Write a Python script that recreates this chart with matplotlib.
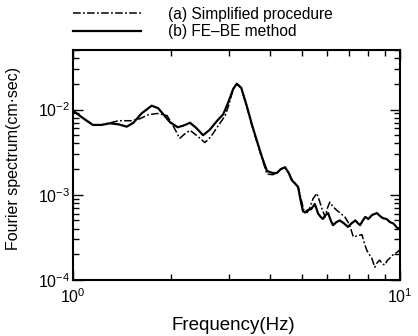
import matplotlib
matplotlib.use("Agg")
import matplotlib.pyplot as plt
from matplotlib.ticker import LogLocator, NullFormatter, FixedLocator, FixedFormatter

plt.rcParams['font.family'] = ['Liberation Sans', 'DejaVu Sans']

freq_b = [1.00, 1.07, 1.15, 1.22, 1.30, 1.38, 1.46, 1.53, 1.62, 1.74, 1.82, 1.88, 1.98, 2.09,
          2.18, 2.28, 2.38, 2.50, 2.62, 2.76, 2.88, 2.98, 3.09, 3.17, 3.27, 3.40, 3.52, 3.65,
          3.78, 3.92, 4.08, 4.20, 4.32, 4.45, 4.57, 4.67, 4.78, 4.88, 4.97, 5.05, 5.13, 5.22,
          5.35, 5.49, 5.62, 5.72, 5.81, 5.92, 6.03, 6.14, 6.24, 6.40, 6.55, 6.75, 6.93, 7.10,
          7.30, 7.45, 7.55, 7.70, 7.83, 8.00, 8.22, 8.50, 8.70, 8.88, 9.10, 9.30, 9.55, 9.80, 10.0]
spec_b = [0.0097, 0.0080, 0.0066, 0.0066, 0.0069, 0.0067, 0.0063, 0.0070, 0.0090, 0.0111, 0.0104,
          0.0090, 0.0071, 0.0062, 0.0065, 0.0070, 0.0061, 0.0050, 0.0058, 0.0074, 0.0088, 0.0120,
          0.0175, 0.0201, 0.0180, 0.0110, 0.0068, 0.0043, 0.0028, 0.0019, 0.0018, 0.0018, 0.0020,
          0.0021, 0.0018, 0.00148, 0.00135, 0.00123, 0.00085, 0.00064, 0.00062, 0.00066, 0.00068,
          0.00078, 0.00060, 0.00055, 0.00052, 0.00058, 0.00061, 0.00050, 0.00044, 0.00048, 0.00050,
          0.00046, 0.00042, 0.00046, 0.00050, 0.00046, 0.00044, 0.00050, 0.00055, 0.00052, 0.00058,
          0.00061, 0.00056, 0.00053, 0.00052, 0.00048, 0.00046, 0.00041, 0.00040]

freq_a = [1.00, 1.07, 1.15, 1.22, 1.30, 1.38, 1.46, 1.51, 1.60, 1.70, 1.81, 1.94, 2.03, 2.12,
          2.20, 2.28, 2.40, 2.53, 2.64, 2.76, 2.92, 3.00, 3.09, 3.17, 3.27, 3.40, 3.52, 3.65,
          3.78, 3.92, 4.08, 4.20, 4.32, 4.45, 4.57, 4.67, 4.78, 4.88, 4.98, 5.08, 5.20, 5.30,
          5.42, 5.57, 5.67, 5.77, 5.90, 6.00, 6.10, 6.25, 6.40, 6.60, 6.78, 7.00, 7.20, 7.40,
          7.65, 7.80, 7.93, 8.05, 8.20, 8.37, 8.52, 8.67, 8.82, 8.98, 9.15, 9.30, 9.55, 9.77, 10.0]
spec_a = [0.0097, 0.0080, 0.0066, 0.0066, 0.0070, 0.0074, 0.0074, 0.0074, 0.0078, 0.0087, 0.0090,
          0.0085, 0.0063, 0.0046, 0.0052, 0.0057, 0.0049, 0.0041, 0.0048, 0.0062, 0.0085, 0.0115,
          0.0175, 0.0200, 0.0178, 0.0108, 0.0066, 0.0042, 0.0027, 0.00175, 0.00172, 0.0018, 0.0020,
          0.0021, 0.0018, 0.0015, 0.00135, 0.00124, 0.00090, 0.00066, 0.00062, 0.00070, 0.00090,
          0.00104, 0.00085, 0.00069, 0.00055, 0.00070, 0.00082, 0.00072, 0.00066, 0.00060, 0.00055,
          0.00045, 0.00032, 0.00033, 0.00034, 0.00026, 0.00022, 0.00020, 0.00018, 0.000141, 0.000160,
          0.000171, 0.000155, 0.000150, 0.000170, 0.00018, 0.00020, 0.00021, 0.000225]

label_a = "(a) Simplified procedure"
label_b = "(b) FE\u2013BE method"
xticks = [1, 10]
xticklabels = [r"$\mathregular{10^{0}}$", r"$\mathregular{10^{1}}$"]
yticks = [1e-4, 1e-3, 1e-2]
yticklabels = [r"$\mathregular{10^{-4}}$", r"$\mathregular{10^{-3}}$", r"$\mathregular{10^{-2}}$"]

fig = plt.figure(figsize=(4.18, 3.36), dpi=100)
ax = fig.add_axes([73/418, 1-280/336, (400-73)/418, (280-50)/336])

la, = ax.plot(freq_a, spec_a, color='black', lw=1.1, linestyle=(0, (5, 1.5, 1.2, 1.5)))
lb, = ax.plot(freq_b, spec_b, color='black', lw=1.6, linestyle='-')

ax.set_xscale('log')
ax.set_yscale('log')
ax.set_xlim(1, 10)
ax.set_ylim(1e-4, 0.05)

ax.xaxis.set_major_locator(FixedLocator(xticks))
ax.xaxis.set_major_formatter(FixedFormatter(xticklabels))
ax.xaxis.set_minor_locator(LogLocator(base=10, subs=range(2, 10)))
ax.xaxis.set_minor_formatter(NullFormatter())
ax.yaxis.set_major_locator(FixedLocator(yticks))
ax.yaxis.set_major_formatter(FixedFormatter(yticklabels))
ax.yaxis.set_minor_locator(LogLocator(base=10, subs=range(2, 10)))
ax.yaxis.set_minor_formatter(NullFormatter())

ax.tick_params(which='both', direction='in', top=True, right=True, labelsize=11.5, width=1)
ax.tick_params(axis='x', which='major', pad=5)
ax.tick_params(axis='y', which='major', pad=2)
ax.tick_params(which='major', length=7)
ax.tick_params(which='minor', length=4)
for s in ax.spines.values():
    s.set_linewidth(1.5)

ax.set_xlabel("Frequency(Hz)", fontsize=13.5)
ax.xaxis.set_label_coords(0.49, -0.16)
ax.set_ylabel("Fourier spectrum(cm\u00b7sec)", fontsize=11.5)
ax.yaxis.set_label_coords(-0.16, 0.53)

fig.legend([la, lb], [label_a, label_b], loc='upper left', bbox_to_anchor=(62/418, 1.012),
           frameon=False, fontsize=11.2, handlelength=4.4, handletextpad=1.7,
           labelspacing=0.15, borderpad=0.2)

fig.savefig("out.png", dpi=100)
